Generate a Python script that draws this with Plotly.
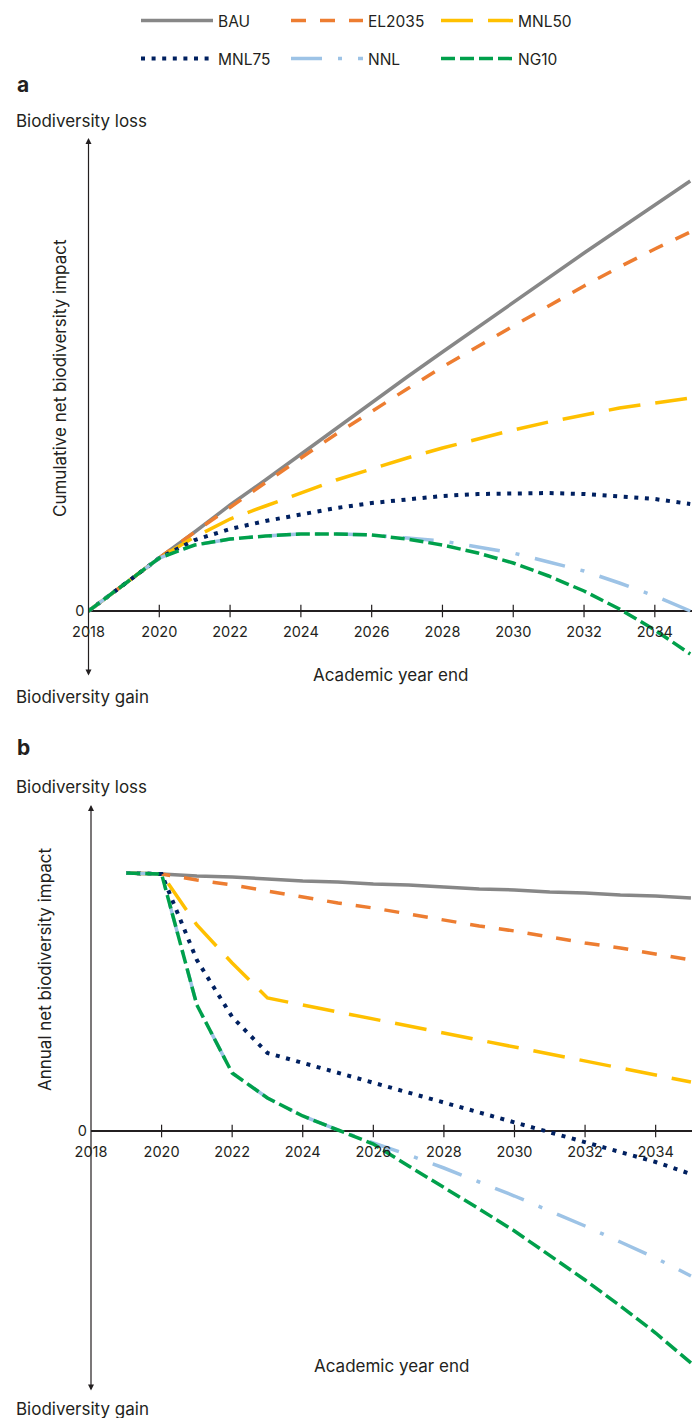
import plotly.graph_objects as go

# ---------------- data ----------------
years_cum = list(range(2018, 2036))
bau_cum = [0, 27, 53, 79, 106, 131, 157, 183, 208, 234, 259, 284, 309, 333, 358, 382, 406, 430]
el2035_cum = [0, 27, 53, 79, 104, 129, 153, 177, 200, 222, 244, 265, 285, 305, 325, 344, 362, 379]
mnl50_cum = [0, 27, 53, 74, 92, 105, 118, 131, 142, 153, 163, 172, 181, 189, 196, 203, 208, 213]
mnl75_cum = [0, 27, 53, 71, 82, 90, 97, 103, 108, 112, 115, 117, 118, 118, 117, 115, 112, 107]
nnl_cum = [0, 27, 53, 66, 72, 75, 77, 77, 76, 73, 70, 64, 58, 49, 40, 28, 15, 0]
ng10_cum = [0, 27, 53, 66, 72, 75, 77, 77, 76, 72, 66, 58, 48, 35, 20, 2, -19, -43]

years_ann = list(range(2019, 2036))
bau_ann = [258, 257, 255, 254, 252, 250, 249, 247, 246, 244, 242, 241, 239, 238, 236, 235, 233]
el2035_ann = [258, 257, 251, 246, 240, 234, 228, 223, 217, 211, 205, 200, 194, 188, 183, 177, 171]
mnl50_ann = [258, 257, 206, 168, 133, 126, 119, 112, 105, 98, 91, 84, 77, 70, 63, 56, 49]
mnl75_ann = [258, 257, 171, 114, 78, 68, 58, 48, 39, 29, 19, 9, -1, -11, -21, -31, -43]
nnl_ann = [258, 257, 126, 58, 33, 15, 1, -12, -24, -37, -51, -65, -80, -95, -111, -127, -145]
ng10_ann = [258, 257, 126, 58, 33, 15, 1, -13, -35, -56, -78, -100, -124, -149, -175, -202, -232]

tick_years = [2018, 2020, 2022, 2024, 2026, 2028, 2030, 2032, 2034]
tick_labels = [str(y) for y in tick_years]

scenarios = ["BAU", "EL2035", "MNL50", "MNL75", "NNL", "NG10"]
cum_series = [bau_cum, el2035_cum, mnl50_cum, mnl75_cum, nnl_cum, ng10_cum]
ann_series = [bau_ann, el2035_ann, mnl50_ann, mnl75_ann, nnl_ann, ng10_ann]

# ---------------- styles ----------------
colors = ["#878787", "#ED7D31", "#FFC000", "#002060", "#9DC3E6", "#00A04B"]
dashes = ["solid", "15px,14px", "32px,15px", "4px,6.6px", "31px,16px,4px,16px", "14px,5px"]
widths = [3.5, 3.5, 3.5, 4, 3.5, 3.5]
legends = ["legend", "legend", "legend", "legend2", "legend2", "legend2"]
FONT = "Inter"
TXT = "#231f20"

W, H = 692, 1418


def fx(p):
    return p / W


def fy(p):
    return 1 - p / H


fig = go.Figure()

# panel a
for name, ys, c, d, w, lg in zip(scenarios, cum_series, colors, dashes, widths, legends):
    fig.add_trace(go.Scatter(x=years_cum, y=ys, mode="lines", name=name,
                             line=dict(color=c, width=w, dash=d),
                             legend=lg, xaxis="x", yaxis="y", hoverinfo="skip"))
# panel b
for name, ys, c, d, w in zip(scenarios, ann_series, colors, dashes, widths):
    fig.add_trace(go.Scatter(x=years_ann, y=ys, mode="lines", name=name,
                             line=dict(color=c, width=w, dash=d),
                             showlegend=False, xaxis="x2", yaxis="y2", hoverinfo="skip"))

# tick marks + labels on the zero line
for xa, ya in (("x", "y"), ("x2", "y2")):
    fig.add_trace(go.Scatter(x=tick_years[1:], y=[0] * (len(tick_years) - 1), mode="markers",
                             marker=dict(symbol="line-ns-open", size=9, color=TXT,
                                         line=dict(color=TXT, width=1.2)),
                             showlegend=False, xaxis=xa, yaxis=ya, hoverinfo="skip",
                             cliponaxis=False))
    fig.add_trace(go.Scatter(x=tick_years, y=[0] * len(tick_years), mode="markers+text",
                             text=tick_labels, textposition="bottom center",
                             marker=dict(size=22, color="rgba(0,0,0,0)"),
                             textfont=dict(family=FONT, size=14.5, color=TXT),
                             showlegend=False, xaxis=xa, yaxis=ya, hoverinfo="skip",
                             cliponaxis=False))

ya_range = [-66, 473]
yb_range = [-261, 326]

axis_common = dict(showgrid=False, showline=False, ticks="", showticklabels=False,
                   zeroline=False, fixedrange=True)
yaxis_common = dict(showgrid=False, showline=False, ticks="", tickvals=[0], ticktext=["0"],
                    tickfont=dict(size=14.5, family=FONT, color=TXT), ticklabelstandoff=3,
                    zeroline=True, zerolinecolor=TXT, zerolinewidth=1.2, fixedrange=True)
legend_common = dict(orientation="h", xanchor="left", yanchor="middle",
                     itemwidth=72, entrywidth=63, entrywidthmode="pixels",
                     font=dict(family=FONT, size=15.5, color=TXT), bgcolor="rgba(0,0,0,0)",
                     traceorder="normal", itemclick=False, itemdoubleclick=False)

fig.update_layout(
    width=W, height=H,
    margin=dict(l=0, r=0, t=0, b=0),
    paper_bgcolor="white", plot_bgcolor="white",
    font=dict(family=FONT, size=17, color=TXT),
    xaxis=dict(domain=[fx(88.5), 1], range=[2018, 2035.05], anchor="y", **axis_common),
    yaxis=dict(domain=[fy(677), fy(138)], range=ya_range, anchor="x", **yaxis_common),
    xaxis2=dict(domain=[fx(91), 1], range=[2018, 2035.03], anchor="y2", **axis_common),
    yaxis2=dict(domain=[fy(1392), fy(805)], range=yb_range, anchor="x2", **yaxis_common),
    legend=dict(x=fx(136), y=fy(21), **legend_common),
    legend2=dict(x=fx(136), y=fy(59), **legend_common),
    showlegend=True,
)

annotations = []
# double-headed vertical axes
for xa, ya, rng in (("x", "y", ya_range), ("x2", "y2", yb_range)):
    annotations.append(dict(x=2018, y=rng[1], ax=2018, ay=rng[0], xref=xa, yref=ya,
                            axref=xa, ayref=ya, text="", showarrow=True,
                            arrowhead=2, startarrowhead=2, arrowside="end+start",
                            arrowsize=1, startarrowsize=1, arrowwidth=1.2,
                            arrowcolor=TXT, standoff=0, startstandoff=0))


def txt(x, y, s, size=17, bold=False, angle=0, xanchor="left"):
    annotations.append(dict(x=fx(x), y=fy(y), xref="paper", yref="paper",
                            text=("<b>%s</b>" % s) if bold else s,
                            showarrow=False, xanchor=xanchor, yanchor="middle", textangle=angle,
                            font=dict(family=FONT, size=size, color=TXT)))


txt(15, 84, "a", size=21, bold=True)
txt(14, 121, "Biodiversity loss")
txt(14, 697, "Biodiversity gain")
txt(390, 675, "Academic year end", xanchor="center")
txt(60, 378, "Cumulative net biodiversity impact", angle=-90, xanchor="center")

txt(15, 748, "b", size=21, bold=True)
txt(14, 787, "Biodiversity loss")
txt(14, 1409, "Biodiversity gain")
txt(391, 1366, "Academic year end", xanchor="center")
txt(45, 969, "Annual net biodiversity impact", angle=-90, xanchor="center")

fig.update_layout(annotations=annotations)

# remove the browser's default 8px body margin so the figure fills the window exactly
fig.write_html("out.html", config={"displayModeBar": False, "staticPlot": True},
               post_script="document.body.style.margin='0';document.body.style.overflow='hidden';")
